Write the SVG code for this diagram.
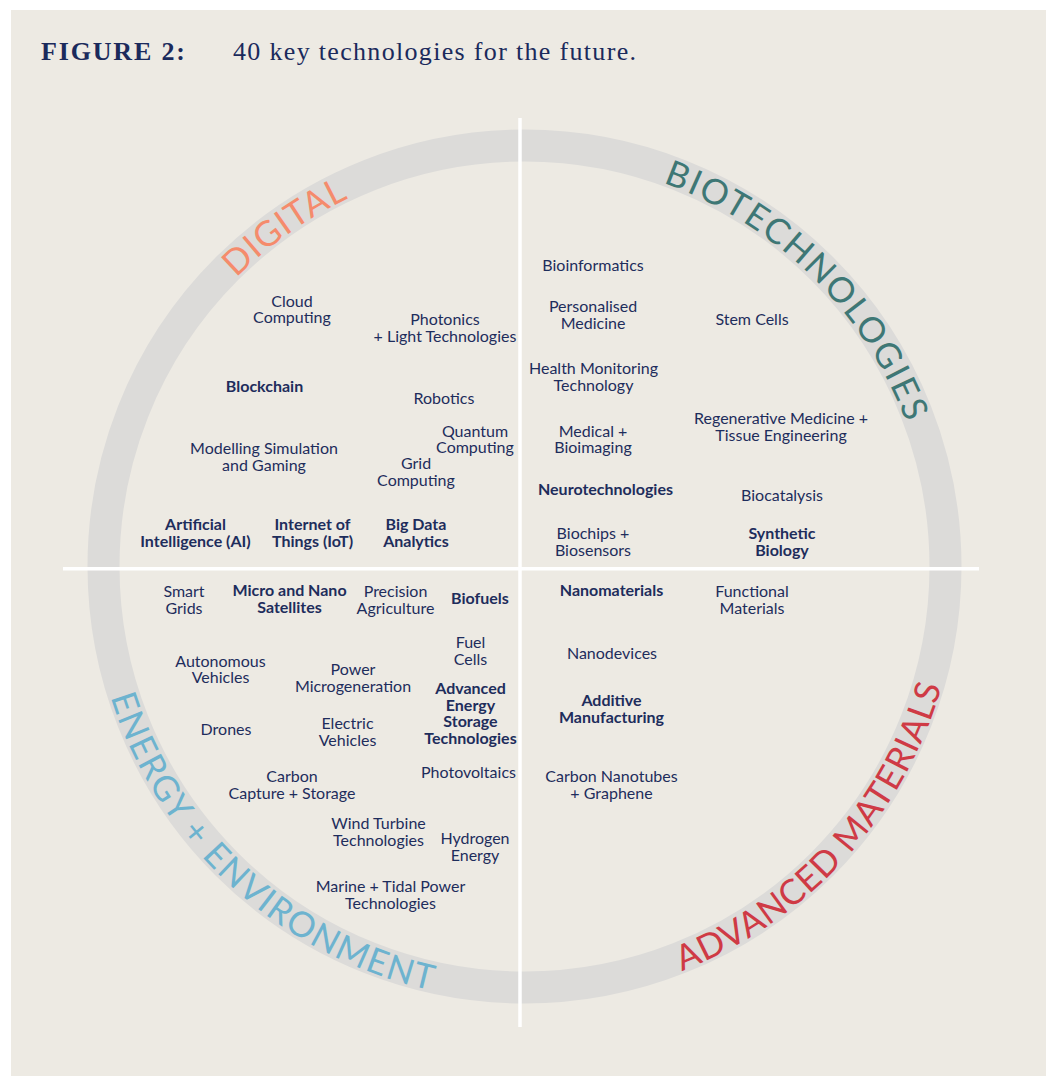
<svg xmlns="http://www.w3.org/2000/svg" width="1051" height="1077" viewBox="0 0 1051 1077">
<defs>
<style>
.n{font-family:Lato,"Noto Sans",sans-serif;font-size:16px;fill:#1e2d5c;text-anchor:middle}
.b{font-weight:700}
.arc{font-family:Lato,"Noto Sans",sans-serif;font-size:35px}
.ttl{font-family:"Liberation Serif",serif;font-size:26px;fill:#1b2a5c}
</style>
<path id="topArc" d="M 116.5 566.5 A 408 408 0 0 1 932.5 566.5"/>
<path id="botArc" d="M 90.5 566.5 A 434 434 0 0 0 958.5 566.5"/>
</defs>
<rect x="0" y="0" width="1051" height="1077" fill="#ffffff"/>
<rect x="11" y="10" width="1035" height="1066" fill="#edeae3"/>
<g id="title">
<text class="ttl" x="41" y="60" font-weight="700" textLength="144" lengthAdjust="spacing">FIGURE 2:</text>
<text class="ttl" x="233" y="60" font-size="25" textLength="403" lengthAdjust="spacing">40 key technologies for the future.</text>
</g>
<g id="ring">
<circle cx="524.5" cy="566.5" r="421" fill="none" stroke="#dcdbd9" stroke-width="32"/>
</g>
<g id="connectors">
<line x1="520" y1="118" x2="520" y2="1027" stroke="#ffffff" stroke-width="3.5"/>
<line x1="63" y1="568.7" x2="979" y2="568.7" stroke="#ffffff" stroke-width="3.5"/>
</g>
<g id="sector-labels">
<text class="arc" fill="#f58b6c" text-anchor="middle"><textPath href="#topArc" startOffset="389.5" textLength="138" lengthAdjust="spacing">DIGITAL</textPath></text>
<text class="arc" fill="#3e7775" text-anchor="middle"><textPath href="#topArc" startOffset="958" textLength="352" lengthAdjust="spacing">BIOTECHNOLOGIES</textPath></text>
<text class="arc" fill="#6db3cf" text-anchor="middle"><textPath href="#botArc" startOffset="360" textLength="455" lengthAdjust="spacing">ENERGY + ENVIRONMENT</textPath></text>
<text class="arc" fill="#cf3a45" text-anchor="middle"><textPath href="#botArc" startOffset="1042" textLength="399" lengthAdjust="spacing">ADVANCED MATERIALS</textPath></text>
</g>
<g id="digital">
<g id="cloud-computing"><text class="n" x="292" y="306.5">Cloud<tspan x="292" dy="16.7">Computing</tspan></text></g>
<g id="photonics"><text class="n" x="445" y="325">Photonics<tspan x="445" dy="16.7">+ Light Technologies</tspan></text></g>
<g id="blockchain"><text class="n b" x="264.5" y="392">Blockchain</text></g>
<g id="robotics"><text class="n" x="444" y="404">Robotics</text></g>
<g id="quantum"><text class="n" x="475" y="436.7">Quantum<tspan x="475" dy="16.7">Computing</tspan></text></g>
<g id="modelling"><text class="n" x="264" y="454">Modelling Simulation<tspan x="264" dy="16.7">and Gaming</tspan></text></g>
<g id="grid"><text class="n" x="416" y="469">Grid<tspan x="416" dy="16.7">Computing</tspan></text></g>
<g id="ai"><text class="n b" x="195.5" y="530">Artificial<tspan x="195.5" dy="16.7">Intelligence (AI)</tspan></text></g>
<g id="iot"><text class="n b" x="312.5" y="530">Internet of<tspan x="312.5" dy="16.7">Things (IoT)</tspan></text></g>
<g id="bigdata"><text class="n b" x="416" y="530">Big Data<tspan x="416" dy="16.7">Analytics</tspan></text></g>
</g>
<g id="biotech">
<g id="bioinformatics"><text class="n" x="593" y="270.7">Bioinformatics</text></g>
<g id="personalised"><text class="n" x="593" y="312">Personalised<tspan x="593" dy="16.7">Medicine</tspan></text></g>
<g id="stemcells"><text class="n" x="752" y="325">Stem Cells</text></g>
<g id="health"><text class="n" x="593.5" y="374">Health Monitoring<tspan x="593.5" dy="16.7">Technology</tspan></text></g>
<g id="regenerative"><text class="n" x="781" y="424">Regenerative Medicine +<tspan x="781" dy="16.7">Tissue Engineering</tspan></text></g>
<g id="medical"><text class="n" x="593" y="436.5">Medical +<tspan x="593" dy="16.7">Bioimaging</tspan></text></g>
<g id="neuro"><text class="n b" x="605.5" y="495">Neurotechnologies</text></g>
<g id="biocatalysis"><text class="n" x="782" y="501">Biocatalysis</text></g>
<g id="biochips"><text class="n" x="593" y="539.3">Biochips +<tspan x="593" dy="16.7">Biosensors</tspan></text></g>
<g id="synbio"><text class="n b" x="782" y="539.3">Synthetic<tspan x="782" dy="16.7">Biology</tspan></text></g>
</g>
<g id="energy">
<g id="smartgrids"><text class="n" x="184" y="597">Smart<tspan x="184" dy="16.7">Grids</tspan></text></g>
<g id="satellites"><text class="n b" x="289.5" y="596">Micro and Nano<tspan x="289.5" dy="16.7">Satellites</tspan></text></g>
<g id="precision"><text class="n" x="395.5" y="597">Precision<tspan x="395.5" dy="16.7">Agriculture</tspan></text></g>
<g id="biofuels"><text class="n b" x="480" y="604">Biofuels</text></g>
<g id="fuelcells"><text class="n" x="470.5" y="648">Fuel<tspan x="470.5" dy="16.7">Cells</tspan></text></g>
<g id="autonomous"><text class="n" x="220.5" y="666.6">Autonomous<tspan x="220.5" dy="16.7">Vehicles</tspan></text></g>
<g id="power"><text class="n" x="353" y="675">Power<tspan x="353" dy="16.7">Microgeneration</tspan></text></g>
<g id="storage"><text class="n b" x="470.5" y="694">Advanced<tspan x="470.5" dy="16.5">Energy</tspan><tspan x="470.5" dy="16.5">Storage</tspan><tspan x="470.5" dy="16.5">Technologies</tspan></text></g>
<g id="drones"><text class="n" x="226" y="735">Drones</text></g>
<g id="electric"><text class="n" x="347.5" y="729">Electric<tspan x="347.5" dy="16.7">Vehicles</tspan></text></g>
<g id="photovoltaics"><text class="n" x="468.5" y="778">Photovoltaics</text></g>
<g id="ccs"><text class="n" x="292" y="782.3">Carbon<tspan x="292" dy="16.7">Capture + Storage</tspan></text></g>
<g id="wind"><text class="n" x="378.5" y="829">Wind Turbine<tspan x="378.5" dy="16.7">Technologies</tspan></text></g>
<g id="hydrogen"><text class="n" x="475" y="844.3">Hydrogen<tspan x="475" dy="16.7">Energy</tspan></text></g>
<g id="marine"><text class="n" x="390.5" y="892.3">Marine + Tidal Power<tspan x="390.5" dy="16.7">Technologies</tspan></text></g>
</g>
<g id="materials">
<g id="nanomaterials"><text class="n b" x="611.5" y="596">Nanomaterials</text></g>
<g id="functional"><text class="n" x="752" y="597">Functional<tspan x="752" dy="16.7">Materials</tspan></text></g>
<g id="nanodevices"><text class="n" x="612" y="659">Nanodevices</text></g>
<g id="additive"><text class="n b" x="611.5" y="706">Additive<tspan x="611.5" dy="16.7">Manufacturing</tspan></text></g>
<g id="cnt"><text class="n" x="611.5" y="782">Carbon Nanotubes<tspan x="611.5" dy="16.7">+ Graphene</tspan></text></g>
</g>
</svg>
